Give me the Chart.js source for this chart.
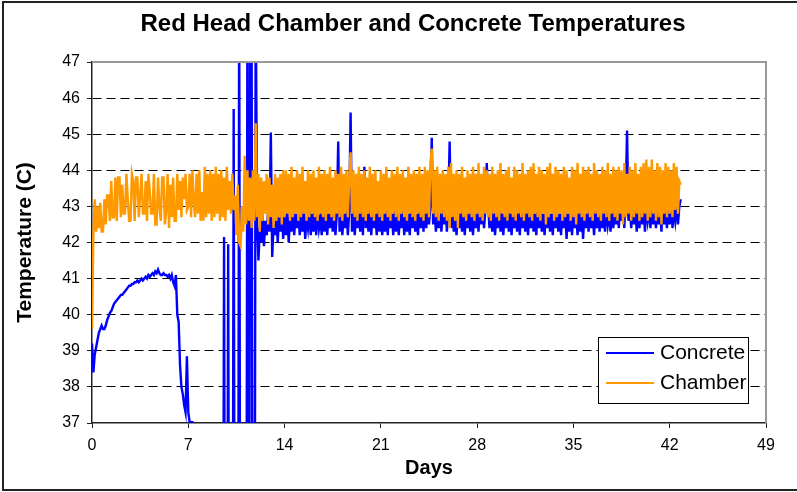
<!DOCTYPE html>
<html><head><meta charset="utf-8">
<script src="https://cdn.jsdelivr.net/npm/chart.js@4.4.1/dist/chart.umd.min.js"></script>
<style>html,body{margin:0;padding:0;background:#fff;}canvas{display:block;}</style>
</head><body>
<canvas id="c" width="797" height="492"></canvas>
<script>
const chartTitle = "Red Head Chamber and Concrete Temperatures";
const xAxisTitle = "Days";
const yAxisTitle = "Temperature (C)";
const seriesNames = ["Concrete", "Chamber"];
const seriesColors = ["#0000FF", "#FF9900"];
const sampleStepDays = 0.1;
const xTickValues = [0, 7, 14, 21, 28, 35, 42, 49];
const yTickValues = [37, 38, 39, 40, 41, 42, 43, 44, 45, 46, 47];

// one reading every 0.1 day from day 0 (one row = one day); values below 37 / above 47 run off the plot
const concreteTemps = [
  39.2, 38.4, 38.9, 39.1, 39.3, 39.5, 39.6, 39.7, 39.6, 39.6,
  39.7, 39.85, 39.95, 40.05, 40.1, 40.2, 40.3, 40.35, 40.4, 40.45,
  40.5, 40.55, 40.55, 40.6, 40.65, 40.7, 40.75, 40.8, 40.8, 40.85,
  40.85, 40.9, 40.9, 40.95, 40.9, 40.95, 41.0, 40.95, 41.0, 41.05,
  41.0, 41.1, 41.05, 41.1, 41.15, 41.1, 41.2, 41.15, 41.25, 41.15,
  41.1, 41.1, 41.15, 41.1, 41.1, 41.05, 41.1, 41.0, 41.1, 40.9,
  40.8, 41.1, 40.0, 39.8, 38.6, 38.0, 37.8, 37.5, 37.3, 38.85,
  37.3, 37.02, 37.02, 37.02, 25, 25, 25, 25, 25, 25,
  25, 25, 25, 25, 25, 25, 25, 25, 25, 25,
  25, 25, 25, 25, 25, 25, 42.15, 25, 25, 41.95,
  25, 25, 25, 45.7, 25, 25, 25, 49, 25, 25,
  25, 25, 25, 49, 25, 49, 49, 25, 25, 49,
  42.6, 41.5, 42.4, 42.0, 42.8, 41.9, 42.6, 42.2, 42.9, 42.3,
  45.05, 41.6, 42.5, 42.2, 42.9, 42.0, 42.7, 42.3, 42.9, 42.1,
  42.8, 42.2, 42.9, 42.0, 42.7, 42.3, 43.0, 42.2, 42.8, 42.4,
  42.9, 42.2, 42.8, 42.3, 43.0, 42.1, 42.7, 42.4, 42.9, 42.2,
  42.8, 42.3, 43.0, 42.2, 42.9, 42.4, 42.7, 42.2, 43.0, 42.3,
  42.9, 42.2, 42.8, 42.4, 43.0, 42.3, 42.9, 42.2, 42.8, 44.8,
  42.3, 42.9, 42.2, 42.8, 42.4, 43.0, 42.2, 42.9, 45.6, 42.3,
  42.9, 42.2, 42.8, 42.4, 43.0, 42.3, 42.9, 42.2, 44.1, 42.4,
  42.8, 42.3, 43.0, 42.2, 42.9, 42.4, 42.8, 42.2, 43.0, 42.3,
  42.9, 42.2, 42.8, 42.3, 43.0, 42.2, 42.9, 42.4, 42.8, 42.2,
  43.0, 42.3, 42.9, 42.2, 42.8, 42.4, 43.0, 42.2, 42.9, 42.3,
  42.8, 42.2, 43.0, 42.4, 42.9, 42.3, 42.8, 42.2, 43.0, 42.4,
  42.9, 42.3, 43.1, 42.4, 42.9, 42.5, 43.0, 44.9, 42.5, 43.0,
  42.3, 42.9, 42.4, 43.0, 42.3, 42.8, 42.5, 43.1, 42.3, 42.9,
  44.8, 42.4, 43.0, 42.3, 42.9, 42.2, 42.8, 42.4, 43.0, 42.3,
  42.9, 42.2, 43.0, 42.4, 42.8, 42.3, 43.0, 42.2, 42.9, 42.4,
  42.8, 42.3, 43.1, 42.5, 43.0, 42.4, 42.9, 44.2, 43.0, 42.4,
  42.9, 42.3, 43.0, 42.2, 42.8, 42.4, 43.0, 42.3, 42.9, 42.2,
  42.8, 42.4, 43.0, 42.3, 42.9, 42.2, 42.8, 42.4, 43.0, 42.3,
  42.9, 42.2, 43.0, 42.4, 42.8, 42.3, 42.9, 42.2, 43.0, 42.4,
  42.9, 42.3, 42.8, 42.2, 43.0, 42.4, 42.9, 42.3, 42.8, 42.2,
  43.0, 42.4, 42.9, 42.3, 42.8, 42.2, 43.0, 42.4, 42.9, 42.3,
  42.8, 42.2, 43.0, 42.4, 42.9, 42.1, 42.8, 42.3, 43.0, 42.2,
  42.9, 42.4, 42.8, 42.2, 43.0, 42.3, 42.9, 42.1, 42.8, 42.4,
  43.0, 42.3, 42.9, 42.4, 42.8, 42.2, 43.0, 42.4, 42.9, 42.3,
  43.1, 42.4, 42.9, 42.3, 43.0, 42.5, 42.8, 42.3, 43.0, 42.4,
  42.9, 42.5, 43.0, 42.4, 43.2, 42.6, 43.1, 42.4, 43.3, 45.1,
  42.6, 43.0, 42.4, 42.9, 42.5, 43.0, 42.3, 42.9, 42.4, 43.0,
  42.5, 42.9, 42.3, 43.0, 42.6, 42.9, 42.4, 43.1, 42.5, 42.9,
  42.4, 43.0, 42.5, 42.9, 42.3, 43.1, 42.5, 42.9, 42.4, 43.0,
  42.5, 43.2, 42.4, 42.9, 42.6, 43.1, 42.5, 43.0, 43.2
];
const chamberTemps = [
  39.6, 42.2, 43.2, 42.3, 43.0, 42.4, 43.1, 42.3, 42.3, 43.2,
  42.5, 43.3, 43.3, 42.6, 43.7, 42.7, 42.7, 43.8, 42.6, 43.8,
  43.8, 42.7, 43.6, 42.8, 42.8, 43.9, 43.2, 42.6, 42.6, 43.9,
  43.7, 42.6, 43.8, 43.8, 42.7, 43.3, 43.9, 42.8, 42.8, 43.7,
  42.6, 43.9, 43.4, 42.8, 42.8, 43.9, 42.5, 42.5, 43.8, 43.0,
  42.6, 43.8, 43.8, 42.5, 42.9, 43.9, 42.4, 43.6, 42.7, 43.8,
  42.6, 42.6, 43.9, 42.9, 43.7, 42.7, 43.8, 43.2, 43.9, 42.9,
  43.0, 43.9, 42.7, 44.0, 43.1, 42.7, 43.9, 42.8, 44.0, 42.6,
  43.4, 42.6, 44.1, 42.7, 43.9, 42.8, 44.0, 42.6, 43.9, 42.7,
  44.1, 42.8, 43.9, 42.6, 44.0, 42.7, 43.8, 42.6, 44.1, 42.9,
  43.7, 42.8, 43.9, 42.9, 43.3, 42.2, 43.6, 42.0, 41.9, 43.0,
  42.3, 44.4, 42.5, 44.0, 42.6, 43.8, 42.4, 44.0, 42.6, 45.3,
  42.7, 43.9, 42.3, 43.8, 42.6, 43.7, 42.8, 43.9, 42.5, 43.8,
  42.7, 43.6, 42.4, 43.9, 42.6, 43.8, 42.7, 43.9, 42.5, 44.0,
  42.7, 44.0, 42.8, 43.9, 42.6, 44.1, 42.7, 43.8, 42.8, 44.0,
  42.6, 43.9, 42.7, 44.1, 42.8, 43.7, 42.6, 44.0, 42.7, 43.9,
  42.8, 44.0, 42.7, 43.8, 42.6, 44.1, 42.8, 43.9, 42.7, 44.0,
  42.6, 43.9, 42.8, 44.1, 42.7, 43.8, 42.6, 44.0, 42.8, 43.9,
  42.7, 44.1, 42.6, 43.9, 42.8, 44.0, 42.7, 43.8, 44.5, 42.8,
  44.0, 42.7, 43.9, 42.6, 44.1, 42.8, 43.9, 42.7, 44.0, 42.6,
  43.8, 42.8, 44.1, 42.7, 43.9, 42.6, 44.0, 42.8, 43.7, 42.7,
  44.0, 42.6, 43.9, 42.8, 44.1, 42.7, 43.8, 42.6, 44.0, 42.8,
  43.9, 42.7, 44.1, 42.6, 43.9, 42.8, 44.0, 42.7, 43.8, 42.6,
  44.1, 42.8, 43.9, 42.7, 44.0, 42.6, 43.9, 42.8, 44.1, 42.7,
  43.9, 42.6, 44.1, 42.8, 44.0, 42.7, 44.2, 44.6, 42.8, 44.0,
  42.7, 44.1, 42.6, 43.9, 42.8, 44.0, 42.7, 43.9, 42.6, 44.1,
  42.4, 44.2, 42.7, 43.9, 42.6, 44.0, 42.4, 43.9, 42.8, 44.1,
  42.7, 43.8, 42.6, 44.0, 42.8, 43.9, 42.7, 44.1, 42.6, 43.9,
  42.8, 44.2, 42.7, 43.9, 42.6, 44.1, 42.8, 44.0, 42.7, 43.9,
  42.6, 44.1, 42.8, 43.9, 42.7, 44.0, 42.6, 44.2, 42.8, 43.9,
  42.7, 44.0, 42.6, 44.1, 42.8, 43.8, 42.7, 44.1, 42.6, 44.0,
  42.8, 43.9, 42.7, 44.2, 42.6, 43.9, 42.8, 44.0, 42.7, 44.1,
  42.6, 44.2, 42.8, 43.9, 42.7, 44.1, 42.6, 44.0, 42.8, 43.9,
  42.5, 44.1, 42.7, 44.2, 42.8, 43.9, 42.6, 44.1, 42.7, 44.0,
  42.8, 43.9, 42.6, 44.1, 42.7, 44.0, 42.8, 43.8, 42.6, 44.1,
  42.7, 44.0, 42.5, 44.2, 42.8, 43.9, 42.7, 44.1, 42.6, 44.0,
  42.8, 44.1, 42.7, 43.9, 42.6, 44.2, 42.8, 44.0, 42.7, 43.9,
  42.6, 44.1, 42.8, 44.0, 42.7, 44.2, 42.6, 43.9, 42.8, 44.1,
  42.7, 44.0, 42.6, 44.1, 42.8, 44.0, 42.5, 44.2, 42.7, 43.9,
  42.8, 44.1, 42.6, 44.0, 42.7, 44.2, 42.8, 43.9, 42.6, 44.1,
  42.7, 44.2, 42.8, 44.3, 42.6, 44.1, 42.7, 44.3, 42.8, 44.0,
  42.6, 44.2, 42.7, 44.1, 42.5, 44.0, 42.8, 44.2, 42.7, 44.1,
  42.8, 44.0, 42.7, 44.2, 42.9, 44.1, 42.8, 43.7, 43.6
];

const toPoints = arr => arr.map((v, i) => ({ x: Math.round(i * sampleStepDays * 100) / 100, y: v }));
const FONT = "'Liberation Sans', Arial, sans-serif";

const decor = {
  id: 'decor',
  beforeDraw(chart) {
    const ctx = chart.ctx;
    ctx.save();
    ctx.fillStyle = '#fff';
    ctx.fillRect(0, 0, chart.width, chart.height);
    ctx.restore();
  },
  afterDraw(chart) {
    const ctx = chart.ctx, a = chart.chartArea;
    ctx.save();
    ctx.strokeStyle = '#999';
    ctx.lineWidth = 2;
    ctx.beginPath();
    ctx.moveTo(a.left, a.top); ctx.lineTo(a.right, a.top); ctx.lineTo(a.right, a.bottom);
    ctx.stroke();
    ctx.strokeStyle = '#222';
    ctx.lineWidth = 2;
    ctx.strokeRect(3, 2, 820, 488);
    ctx.fillStyle = '#000';
    ctx.textAlign = 'center';
    ctx.textBaseline = 'middle';
    ctx.font = 'bold 24px ' + FONT;
    ctx.fillText(chartTitle, 413, 24);
    ctx.font = 'bold 20px ' + FONT;
    ctx.fillText(xAxisTitle, (a.left + a.right) / 2, 468);
    ctx.save();
    ctx.translate(25, (a.top + a.bottom) / 2);
    ctx.rotate(-Math.PI / 2);
    ctx.font = 'bold 21px ' + FONT;
    ctx.fillText(yAxisTitle, 0, 0);
    ctx.restore();
    const lx = 598, ly = 337, lw = 150, lh = 66;
    ctx.fillStyle = '#fff';
    ctx.fillRect(lx, ly, lw, lh);
    ctx.strokeStyle = '#000';
    ctx.lineWidth = 1;
    ctx.strokeRect(lx + 0.5, ly + 0.5, lw, lh);
    ctx.font = '21px ' + FONT;
    ctx.textAlign = 'left';
    chart.data.datasets.forEach((ds, i) => {
      const y = ly + 16 + i * 30;
      ctx.strokeStyle = ds.borderColor;
      ctx.lineWidth = 2;
      ctx.beginPath(); ctx.moveTo(lx + 8, y); ctx.lineTo(lx + 56, y); ctx.stroke();
      ctx.fillStyle = '#000';
      ctx.fillText(ds.label, lx + 62, y);
    });
    ctx.restore();
  }
};

new Chart(document.getElementById('c'), {
  type: 'line',
  data: {
    datasets: [
      { label: seriesNames[0], data: toPoints(concreteTemps), borderColor: seriesColors[0], borderWidth: 2.4, pointRadius: 0, tension: 0, order: 1, clip: 0 },
      { label: seriesNames[1], data: toPoints(chamberTemps), borderColor: seriesColors[1], borderWidth: 2.4, pointRadius: 0, tension: 0, order: 0, clip: 0 }
    ]
  },
  options: {
    responsive: false,
    animation: false,
    devicePixelRatio: 1,
    layout: { padding: { left: 0, top: 62, right: 31, bottom: 0 } },
    plugins: { legend: { display: false }, title: { display: false }, tooltip: { enabled: false } },
    scales: {
      x: {
        type: 'linear', min: 0, max: 49,
        afterBuildTicks: s => { s.ticks = xTickValues.map(v => ({ value: v })); },
        afterFit: s => { s.height = 69; },
        grid: { drawOnChartArea: false, drawTicks: true, tickLength: 5, tickColor: '#222', tickWidth: 1 },
        border: { color: '#222', width: 1.5 },
        ticks: { color: '#000', font: { family: FONT, size: 16 }, padding: 8, maxRotation: 0, autoSkip: false }
      },
      y: {
        min: 37, max: 47,
        afterBuildTicks: s => { s.ticks = yTickValues.map(v => ({ value: v })); },
        afterFit: s => { s.width = 92; },
        grid: {
          color: c => (c.tick && (c.tick.value === 37 || c.tick.value === 47)) ? 'rgba(0,0,0,0)' : '#000',
          lineWidth: 1, drawTicks: true, tickLength: 5, tickColor: '#222', tickWidth: 1
        },
        border: { color: '#222', width: 1.5, dash: [9, 5] },
        ticks: { color: '#000', font: { family: FONT, size: 16 }, padding: 7, autoSkip: false }
      }
    }
  },
  plugins: [decor]
});
</script>
</body></html>
